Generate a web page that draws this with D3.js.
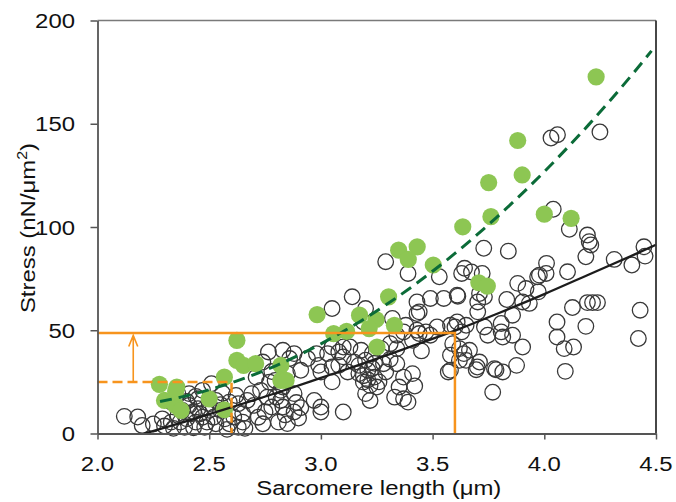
<!DOCTYPE html>
<html>
<head>
<meta charset="utf-8">
<script src="https://cdn.jsdelivr.net/npm/d3@7"></script>
<style>
  html, body { margin: 0; padding: 0; background: #fff; }
  svg { display: block; }
  text { font-family: "Liberation Sans", Arial, sans-serif; fill: #111; }
</style>
</head>
<body>
<svg id="chart" width="676" height="502"></svg>
<script>
// Passive stress vs sarcomere length: single fibres (open) and bundles (filled)
const fibreData = [
  [2.12, 8.3], [2.18, 8.0], [2.20, 3.9], [2.25, 4.6], [2.29, 7.1], [2.30, 3.6],
  [2.33, 5.5], [2.33, 15.2], [2.36, 8.7], [2.36, 19.3], [2.37, 5.5], [2.38, 11.2],
  [2.40, 7.1], [2.41, 19.3], [2.41, 13.6], [2.42, 9.6], [2.44, 5.5], [2.45, 16.8],
  [2.45, 12.0], [2.47, 7.9], [2.47, 20.9], [2.49, 5.5], [2.50, 11.2], [2.50, 14.4],
  [2.34, 2.5], [2.39, 3.0], [2.43, 2.8], [2.46, 9.5], [2.48, 3.0], [2.40, 15.5],
  [2.44, 18.0], [2.43, 10.5],
  [2.51, 24.1], [2.52, 7.9], [2.53, 4.7], [2.55, 11.2], [2.57, 7.1], [2.59, 4.7],
  [2.59, 15.2], [2.62, 18.4], [2.63, 14.4], [2.65, 9.6], [2.65, 5.5], [2.67, 16.0],
  [2.69, 19.3], [2.53, 16.0], [2.56, 19.5], [2.58, 2.0], [2.61, 8.0], [2.63, 3.0],
  [2.66, 2.5], [2.55, 14.0],
  [2.70, 13.6], [2.72, 7.9], [2.73, 20.9], [2.74, 4.7], [2.76, 17.6], [2.78, 12.8],
  [2.765, 39.5], [2.83, 40.3], [2.795, 25.7], [2.82, 20.9], [2.82, 16.0],
  [2.81, 5.5], [2.85, 29.0], [2.71, 27.3], [2.74, 34.6], [2.77, 24.9], [2.83, 22.5],
  [2.80, 17.6], [2.83, 12.8], [2.88, 19.3], [2.88, 10.4], [2.86, 36.3], [2.88, 38.7],
  [2.91, 30.6], [2.94, 36.3], [2.89, 15.0], [2.91, 12.5], [2.90, 7.5], [2.85, 4.8],
  [2.78, 30.0], [2.75, 10.5], [2.84, 9.0],
  [2.98, 38.7], [3.00, 29.8], [3.05, 32.2], [3.03, 38.7], [3.08, 39.5], [3.13, 41.9],
  [3.18, 40.3], [3.23, 38.7], [3.05, 60.5], [3.14, 66.2], [3.20, 60.5], [3.19, 54.0],
  [3.12, 29.8], [3.17, 29.0], [3.21, 30.6], [3.24, 27.3], [3.19, 24.9], [3.22, 23.3],
  [3.25, 22.5], [3.20, 19.3], [3.22, 16.0], [3.28, 33.8], [3.29, 29.8], [3.00, 12.8],
  [3.00, 10.4], [3.10, 10.4], [2.99, 33.0], [3.05, 41.9], [3.10, 41.9], [3.10, 37.1],
  [3.05, 25.0], [3.08, 33.0], [3.15, 34.5], [3.21, 26.0], [3.23, 31.5], [3.19, 28.0],
  [3.26, 25.0], [3.24, 34.0], [3.20, 35.5], [3.17, 33.0], [2.97, 16.0], [3.29, 83.2],
  [3.27, 41.1],
  [3.34, 47.6], [3.39, 77.5], [3.43, 63.7], [3.44, 58.9], [3.49, 65.4], [3.55, 65.4],
  [3.61, 67.0], [3.53, 75.9], [3.63, 77.5], [3.32, 55.7], [3.37, 49.2], [3.38, 52.4],
  [3.43, 50.0], [3.47, 49.2], [3.52, 51.6], [3.58, 52.4], [3.61, 54.0], [3.31, 43.5],
  [3.34, 41.1], [3.41, 45.1], [3.44, 48.4], [3.49, 47.6], [3.60, 51.6], [3.63, 49.2],
  [3.34, 33.8], [3.37, 27.3], [3.41, 29.0], [3.35, 22.5], [3.37, 16.8], [3.33, 17.6],
  [3.39, 15.2], [3.58, 37.9], [3.58, 30.6], [3.62, 35.4], [3.59, 43.5], [3.62, 41.1],
  [3.57, 29.8], [3.43, 58.1], [3.31, 36.0], [3.45, 40.0], [3.42, 23.0],
  [3.650, 52.4], [3.732, 51.6], [3.807, 53.3], [3.747, 47.6], [3.807, 49.2],
  [3.814, 46.7], [3.858, 47.6], [3.903, 41.9], [3.665, 40.3], [3.650, 35.4],
  [3.710, 34.6], [3.695, 30.9], [3.777, 31.4], [3.814, 29.8], [3.876, 33.0],
  [3.769, 20.0], [3.702, 63.7], [3.732, 66.2], [3.702, 58.9], [3.858, 57.3],
  [3.832, 64.9], [3.903, 63.7], [3.933, 63.0], [3.881, 72.7], [3.918, 70.2],
  [3.973, 68.6], [3.970, 75.9], [3.729, 89.7], [3.839, 88.3], [3.643, 80.0],
  [3.674, 78.2], [3.722, 77.5], [3.710, 67.8], [3.613, 66.5], [3.64, 38.7],
  [3.70, 32.2], [3.784, 30.9],
  [4.008, 77.5], [4.104, 78.3], [4.126, 61.0], [4.193, 63.4], [4.216, 63.4],
  [4.238, 63.4], [4.429, 59.7], [4.057, 54.0], [4.186, 51.9], [4.057, 46.7],
  [4.089, 41.1], [4.131, 41.9], [4.421, 46.0], [4.094, 30.1], [4.030, 143.1],
  [4.059, 144.7], [4.249, 146.0], [4.040, 108.6], [4.112, 98.9], [4.193, 96.1],
  [4.201, 92.9], [4.208, 91.3], [4.186, 85.6], [4.446, 90.4], [4.451, 85.9],
  [4.313, 84.3], [4.392, 81.6], [4.010, 82.4], [3.978, 76.7]
];

const bundleData = [
  [4.232, 172.7], [3.881, 141.9], [3.901, 125.2], [3.751, 121.5], [3.761, 105.0],
  [3.635, 100.1], [4.000, 106.2], [4.120, 104.2], [3.348, 88.8], [3.431, 90.4],
  [3.391, 84.3], [3.503, 81.6], [3.707, 73.0], [3.745, 71.4], [3.303, 66.2],
  [2.983, 57.6], [3.173, 57.3], [3.247, 55.2], [3.329, 52.4], [3.216, 50.8],
  [3.057, 48.4], [3.115, 49.5], [3.251, 41.9], [2.624, 45.1], [2.624, 35.4],
  [2.654, 33.0], [2.708, 33.8], [2.821, 33.0], [2.821, 25.7], [2.844, 25.7],
  [2.568, 27.3], [2.277, 23.8], [2.355, 22.5], [2.500, 16.8], [2.300, 16.0],
  [2.349, 13.6], [2.374, 11.2], [2.568, 11.5], [2.35, 20.5]
];

// Fitted trend curves (sampled)
const fibreFitX = [2.21, 2.4, 2.6, 2.8, 3.0, 3.2, 3.4, 3.6, 3.8, 4.0, 4.2, 4.4, 4.5];
const fibreFitY = [0, 6.0, 12.7, 19.6, 26.9, 34.3, 42.0, 49.8, 58.5, 67.5, 77.0, 86.5, 91.4];
const bundleFitX = [2.28, 2.4, 2.6, 2.8, 3.0, 3.2, 3.4, 3.6, 3.8, 4.0, 4.2, 4.4, 4.48];
const bundleFitY = [15.5, 18.3, 24.6, 32.9, 43.4, 55.9, 70.5, 87.2, 106, 126.8, 149.7, 174.7, 185.3];

// Reference guides: stress at 2.6 µm for bundles and at 3.6 µm for fibres
const guideLow = { x: 2.6, y: 25 };
const guideHigh = { x: 3.6, y: 48.7 };
const arrowX = 2.16;

const xTicks = [2.0, 2.5, 3.0, 3.5, 4.0, 4.5];
const xTickLabels = ["2.0", "2.5", "3.0", "3.5", "4.0", "4.5"];
const yTicks = [0, 50, 100, 150, 200];
const yTickLabels = ["0", "50", "100", "150", "200"];

const svg = d3.select("#chart");
const x = d3.scaleLinear().domain([2, 4.5]).range([97.5, 656]);
const y = d3.scaleLinear().domain([0, 200]).range([433.5, 20.5]);

const ORANGE = "#f7941d";
const STRETCH = 1.14;

// open circles
svg.append("g").selectAll("circle").data(fibreData).join("circle")
  .attr("cx", d => x(d[0])).attr("cy", d => y(d[1])).attr("r", 7.8)
  .attr("fill", "none").attr("stroke", "#383838").attr("stroke-width", 1.3);

// filled circles
svg.append("g").selectAll("circle").data(bundleData).join("circle")
  .attr("cx", d => x(d[0])).attr("cy", d => y(d[1])).attr("r", 8.6)
  .attr("fill", "#8dc653");

const line = d3.line().x(d => x(d[0])).y(d => y(d[1])).curve(d3.curveMonotoneX);

svg.append("path")
  .attr("d", line(fibreFitX.map((v, i) => [v, fibreFitY[i]])))
  .attr("fill", "none").attr("stroke", "#1c1c1c").attr("stroke-width", 2.3);

svg.append("path")
  .attr("d", line(bundleFitX.map((v, i) => [v, bundleFitY[i]])))
  .attr("fill", "none").attr("stroke", "#0b6b38").attr("stroke-width", 3)
  .attr("stroke-dasharray", "12,7");

// orange guides
svg.append("path")
  .attr("d", `M${x(2)},${y(guideHigh.y)}H${x(guideHigh.x)}V${y(0)}`)
  .attr("fill", "none").attr("stroke", ORANGE).attr("stroke-width", 2.5);
svg.append("path")
  .attr("d", `M${x(2)},${y(guideLow.y)}H${x(guideLow.x)}V${y(0)}`)
  .attr("fill", "none").attr("stroke", ORANGE).attr("stroke-width", 2.5)
  .attr("stroke-dasharray", "10,5");
const ax = x(arrowX), tipY = y(guideHigh.y) + 2.5;
svg.append("path")
  .attr("d", `M${ax},${y(guideLow.y)}V${tipY}M${ax - 4.5},${tipY + 11}L${ax},${tipY}L${ax + 4.5},${tipY + 11}`)
  .attr("fill", "none").attr("stroke", ORANGE).attr("stroke-width", 1.6);

// frame
svg.append("line").attr("x1", x(2)).attr("x2", x(4.5)).attr("y1", y(200)).attr("y2", y(200))
  .attr("stroke", "#7a7a7a").attr("stroke-width", 1.5);
svg.append("line").attr("x1", x(4.5)).attr("x2", x(4.5)).attr("y1", y(200)).attr("y2", y(0))
  .attr("stroke", "#333").attr("stroke-width", 1.8);

const xAxis = svg.append("g").attr("transform", `translate(0,${y(0)})`)
  .call(d3.axisBottom(x).tickValues(xTicks).tickSize(6).tickSizeOuter(0).tickFormat(""));
const yAxis = svg.append("g").attr("transform", `translate(${x(2)},0)`)
  .call(d3.axisLeft(y).tickValues(yTicks).tickSize(7).tickSizeOuter(0).tickFormat(""));
[xAxis, yAxis].forEach(g => {
  g.select(".domain").attr("stroke", "#555").attr("stroke-width", 1.8);
  g.selectAll(".tick line").attr("stroke", "#555").attr("stroke-width", 1.5);
});

// tick labels
svg.append("g").selectAll("text").data(xTicks).join("text")
  .attr("transform", d => `translate(${x(d)},${y(0) + 37}) scale(${STRETCH},1)`)
  .attr("text-anchor", "middle").attr("font-size", 21)
  .text((d, i) => xTickLabels[i]);
svg.append("g").selectAll("text").data(yTicks).join("text")
  .attr("transform", d => `translate(75,${y(d) + 7.5}) scale(${STRETCH},1)`)
  .attr("text-anchor", "end").attr("font-size", 21)
  .text((d, i) => yTickLabels[i]);

// axis titles
svg.append("text")
  .attr("transform", `translate(${(x(2) + x(4.5)) / 2 + 2},495) scale(${STRETCH},1)`)
  .attr("text-anchor", "middle").attr("font-size", 21)
  .text("Sarcomere length (μm)");

const yTitle = svg.append("text")
  .attr("transform", `translate(35,228) rotate(-90) scale(${STRETCH},1)`)
  .attr("text-anchor", "middle").attr("font-size", 21);
yTitle.append("tspan").text("Stress (nN/μm");
yTitle.append("tspan").attr("font-size", 14).attr("dy", -8).text("2");
yTitle.append("tspan").attr("dy", 8).text(")");
</script>
</body>
</html>
